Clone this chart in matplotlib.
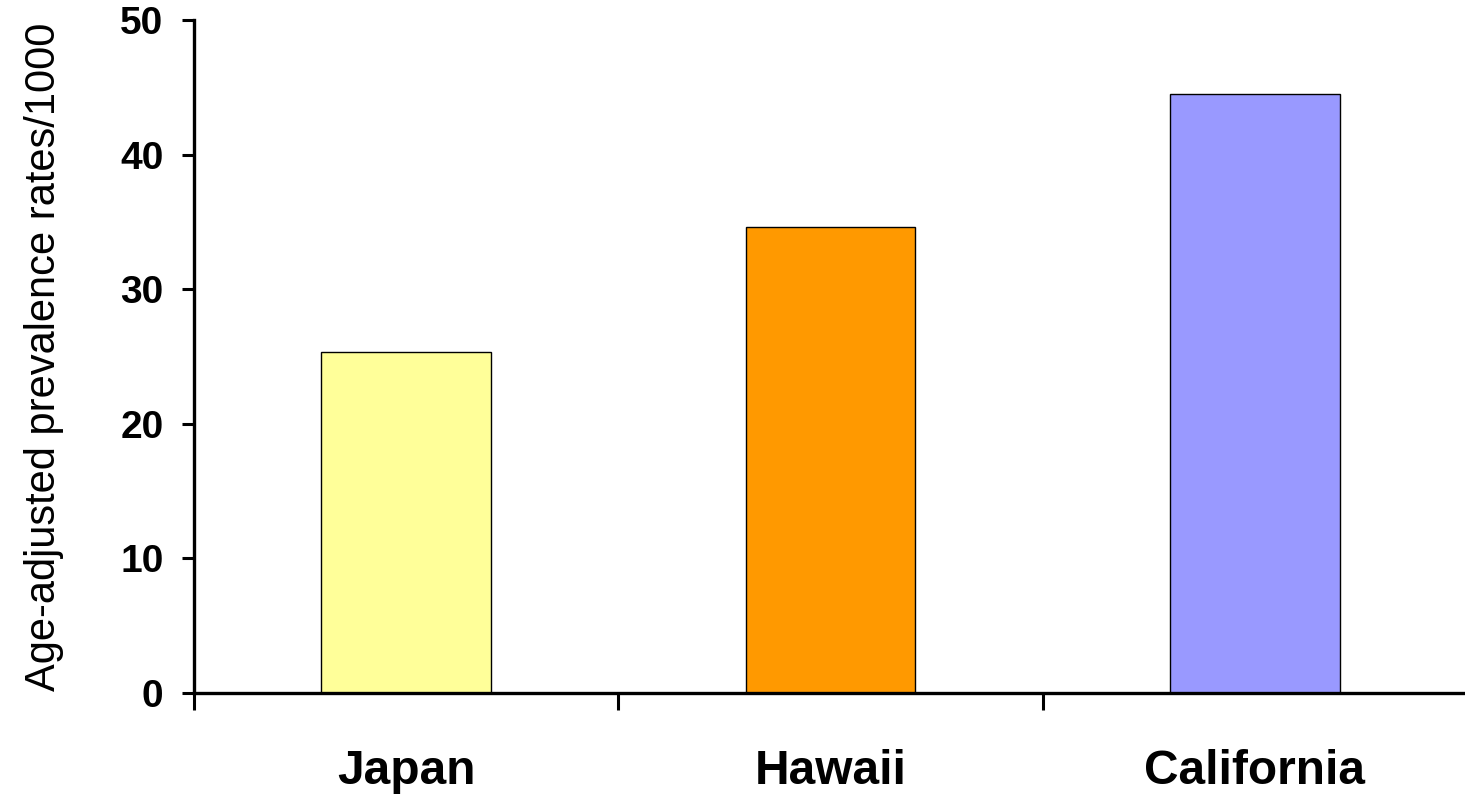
import matplotlib
matplotlib.use('Agg')
import matplotlib.pyplot as plt

regions = ['Japan', 'Hawaii', 'California']
rates = [25.3, 34.6, 44.5]
bar_colors = ['#FFFF99', '#FF9900', '#9999FF']
yticks = [0, 10, 20, 30, 40, 50]

plt.rcParams['font.family'] = ['Liberation Sans', 'DejaVu Sans']

fig = plt.figure(figsize=(14.65, 8.01), dpi=100)
ax = fig.add_axes([0.1324, 0.1348, 0.8690, 0.8402])

x = range(len(regions))
ax.bar(x, rates, width=0.4, color=bar_colors, edgecolor='black', linewidth=1.0, zorder=2)

ax.set_xlim(-0.5, len(regions) - 0.5)
ax.set_ylim(0, 50)
ax.set_yticks(yticks)
ax.set_yticklabels([str(t) for t in yticks], fontsize=28, fontweight='bold')

# category labels between the boundary ticks
ax.set_xticks([i - 0.5 for i in range(len(regions) + 1)])
ax.set_xticklabels([])
ax.set_xticks(list(x), minor=True)
ax.set_xticklabels(regions, minor=True, fontsize=34.5, fontweight='bold')
ax.tick_params(axis='x', which='minor', length=0, pad=40)
ax.tick_params(axis='x', which='major', length=12, width=2.2, direction='out')
ax.tick_params(axis='y', length=9, width=2.2, direction='out', pad=13)

for side in ['top', 'right']:
    ax.spines[side].set_visible(False)
for side in ['left', 'bottom']:
    ax.spines[side].set_linewidth(2.4)

ax.set_ylabel('Age-adjusted prevalence rates/1000', fontsize=30, labelpad=40)

fig.savefig('out.png', dpi=100)
